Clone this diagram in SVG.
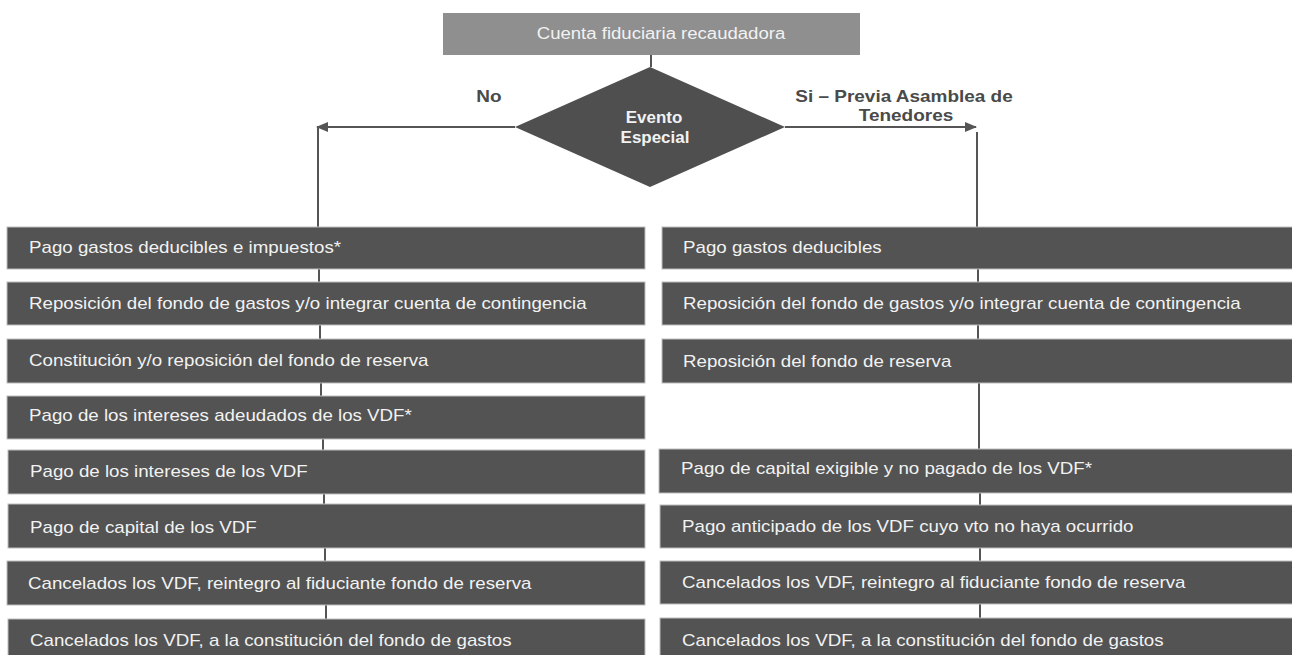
<svg xmlns="http://www.w3.org/2000/svg" width="1292" height="655" viewBox="0 0 1292 655">
<style>
.box{fill:#535353;stroke:#bdbdbd;stroke-width:1}
.t{font-family:"Liberation Sans",Arial,sans-serif;font-size:16px;fill:#f2f2f2}
.lbl{font-family:"Liberation Sans",Arial,sans-serif;font-size:16.5px;font-weight:bold;fill:#4a4a4a}
.ln{stroke:#555;stroke-width:2;fill:none}
</style>
<defs>
<marker id="ah" viewBox="0 0 12 10" refX="11" refY="5" markerWidth="12" markerHeight="10" markerUnits="userSpaceOnUse" orient="auto">
<path d="M0,0 L12,5 L0,10 z" fill="#555"/>
</marker>
</defs>
<rect width="1292" height="655" fill="#fff"/>
<g id="connectors">
<line class="ln" x1="651" y1="55" x2="651" y2="67"/>
<polyline class="ln" points="515,127 317,127" marker-end="url(#ah)"/>
<polyline class="ln" points="785,127 976,127" marker-end="url(#ah)"/>
<line class="ln" x1="318" y1="127" x2="318" y2="227"/>
<line class="ln" x1="977" y1="132" x2="977" y2="227"/>
<line class="ln" x1="319" y1="269" x2="319" y2="282"/>
<line class="ln" x1="320" y1="325" x2="320" y2="339"/>
<line class="ln" x1="321" y1="383" x2="321" y2="396"/>
<line class="ln" x1="323" y1="439" x2="323" y2="450"/>
<line class="ln" x1="324" y1="494" x2="324" y2="504"/>
<line class="ln" x1="325" y1="548" x2="325" y2="561"/>
<line class="ln" x1="326" y1="605" x2="326" y2="619"/>
<line class="ln" x1="978" y1="269" x2="978" y2="282"/>
<line class="ln" x1="978" y1="325" x2="978" y2="339"/>
<line class="ln" x1="979" y1="383" x2="979" y2="449"/>
<line class="ln" x1="980" y1="493" x2="980" y2="505"/>
<line class="ln" x1="980" y1="548" x2="980" y2="561"/>
<line class="ln" x1="980" y1="604" x2="980" y2="618"/>
</g>
<g id="top">
<rect x="443" y="13" width="417" height="42" fill="#8f8f8f"/>
<text class="t" transform="translate(661,39) scale(1.16,1)" text-anchor="middle" font-size="15">Cuenta fiduciaria recaudadora</text>
</g>
<g id="decision">
<polygon points="650,67 785,127 650,187 515,127" fill="#4f4f4f"/>
<text class="t" transform="translate(654,123) scale(1.06,1)" text-anchor="middle" font-weight="bold">Evento</text>
<text class="t" transform="translate(655,143) scale(1.06,1)" text-anchor="middle" font-weight="bold">Especial</text>
</g>
<g id="labels">
<text class="lbl" transform="translate(489,102) scale(1.15,1)" text-anchor="middle">No</text>
<text class="lbl" transform="translate(904,102) scale(1.15,1)" text-anchor="middle">Si – Previa Asamblea de</text>
<text class="lbl" transform="translate(906,121) scale(1.15,1)" text-anchor="middle">Tenedores</text>
</g>
<g id="L1"><rect class="box" x="7" y="227" width="638" height="42"/><text class="t" transform="translate(29,253) scale(1.17,1)">Pago gastos deducibles e impuestos*</text></g>
<g id="L2"><rect class="box" x="7" y="282" width="638" height="43"/><text class="t" transform="translate(29,309) scale(1.17,1)">Reposición del fondo de gastos y/o integrar cuenta de contingencia</text></g>
<g id="L3"><rect class="box" x="7" y="339" width="638" height="44"/><text class="t" transform="translate(29,366) scale(1.17,1)">Constitución y/o reposición del fondo de reserva</text></g>
<g id="L4"><rect class="box" x="7" y="396" width="638" height="43"/><text class="t" transform="translate(29,421) scale(1.17,1)">Pago de los intereses adeudados de los VDF*</text></g>
<g id="L5"><rect class="box" x="8" y="450" width="637" height="44"/><text class="t" transform="translate(30,477) scale(1.17,1)">Pago de los intereses de los VDF</text></g>
<g id="L6"><rect class="box" x="8" y="504" width="637" height="44"/><text class="t" transform="translate(30,533) scale(1.17,1)">Pago de capital de los VDF</text></g>
<g id="L7"><rect class="box" x="7" y="561" width="638" height="44"/><text class="t" transform="translate(28,589) scale(1.17,1)">Cancelados los VDF, reintegro al fiduciante fondo de reserva</text></g>
<g id="L8"><rect class="box" x="8" y="619" width="637" height="40"/><text class="t" transform="translate(30,646) scale(1.17,1)">Cancelados los VDF, a la constitución del fondo de gastos</text></g>
<g id="R1"><rect class="box" x="662" y="227" width="632" height="42"/><text class="t" transform="translate(683,253) scale(1.17,1)">Pago gastos deducibles</text></g>
<g id="R2"><rect class="box" x="662" y="282" width="632" height="43"/><text class="t" transform="translate(683,309) scale(1.17,1)">Reposición del fondo de gastos y/o integrar cuenta de contingencia</text></g>
<g id="R3"><rect class="box" x="662" y="339" width="632" height="44"/><text class="t" transform="translate(683,367) scale(1.17,1)">Reposición del fondo de reserva</text></g>
<g id="R4"><rect class="box" x="659" y="449" width="635" height="44"/><text class="t" transform="translate(681,474) scale(1.17,1)">Pago de capital exigible y no pagado de los VDF*</text></g>
<g id="R5"><rect class="box" x="660" y="505" width="634" height="43"/><text class="t" transform="translate(682,532) scale(1.17,1)">Pago anticipado de los VDF cuyo vto no haya ocurrido</text></g>
<g id="R6"><rect class="box" x="660" y="561" width="634" height="43"/><text class="t" transform="translate(682,588) scale(1.17,1)">Cancelados los VDF, reintegro al fiduciante fondo de reserva</text></g>
<g id="R7"><rect class="box" x="660" y="618" width="634" height="41"/><text class="t" transform="translate(682,646) scale(1.17,1)">Cancelados los VDF, a la constitución del fondo de gastos</text></g>
</svg>
